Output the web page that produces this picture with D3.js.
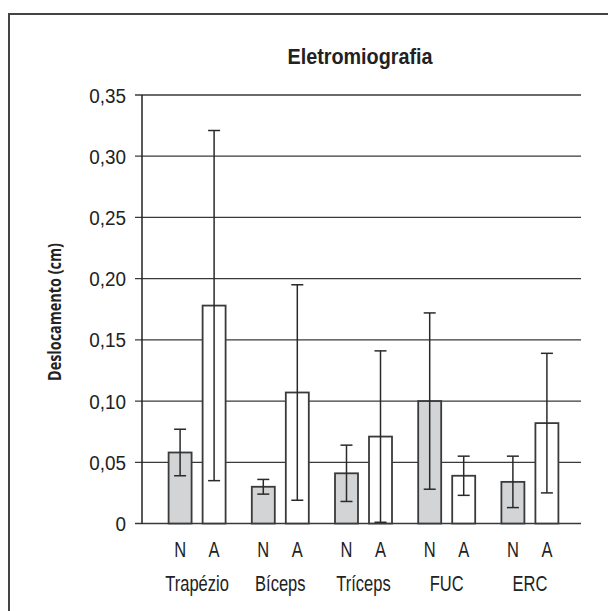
<!DOCTYPE html>
<html lang="pt">
<head>
<meta charset="UTF-8">
<title>Eletromiografia</title>
<script src="https://d3js.org/d3.v7.min.js"></script>
<style>
  body { margin: 0; background: #fff; }
  svg { display: block; }
  .lbl { font-family: "Liberation Sans", Arial, sans-serif; fill: #222; }
</style>
</head>
<body>
<svg id="chart" width="608" height="611"></svg>
<script>
// data (cm)
const categories = ["Trapézio", "Bíceps", "Tríceps", "FUC", "ERC"];
const groups = ["N", "A"];
const meanN = [0.058, 0.030, 0.041, 0.100, 0.034];
const sdN   = [0.019, 0.006, 0.023, 0.072, 0.021];
const meanA = [0.178, 0.107, 0.071, 0.039, 0.082];
const sdA   = [0.143, 0.088, 0.070, 0.016, 0.057];
const yTicks = [0, 0.05, 0.10, 0.15, 0.20, 0.25, 0.30, 0.35];

const svg = d3.select("#chart");

// frame (top + left only, the rest is cut off)
svg.append("path")
  .attr("d", "M9,611 V14 H608")
  .attr("fill", "none")
  .attr("stroke", "#444")
  .attr("stroke-width", 2);

const left = 142, right = 581;
const y = d3.scaleLinear().domain([0, 0.35]).range([523.5, 95]);
const x0 = d3.scaleBand().domain(categories).range([155.5, 571.5]);
const x1 = d3.scaleBand().domain(groups).range([0, 57]).paddingInner(0.324);
const offs = x0.bandwidth() / 2 - 28.5;

// condensed look: squeeze text horizontally around its anchor
function narrow(sel, k) {
  sel.attr("transform", function() {
    const t = d3.select(this);
    const xx = +t.attr("x"), yy = +t.attr("y");
    t.attr("x", 0).attr("y", 0);
    return `translate(${xx},${yy}) scale(${k},1)`;
  });
}

// gridlines + ticks
svg.append("g").selectAll("line")
  .data(yTicks)
  .join("line")
    .attr("x1", left - 7).attr("x2", right)
    .attr("y1", d => y(d)).attr("y2", d => y(d))
    .attr("stroke", "#3a3a3a")
    .attr("stroke-width", 1.3);

svg.append("line")
  .attr("x1", left).attr("x2", left)
  .attr("y1", y(0.35)).attr("y2", y(0))
  .attr("stroke", "#222").attr("stroke-width", 1.5);

svg.append("g").selectAll("text")
  .data(yTicks)
  .join("text")
    .attr("class", "lbl")
    .attr("x", left - 16)
    .attr("y", d => y(d))
    .attr("dy", "0.36em")
    .attr("text-anchor", "end")
    .style("font-size", "21px")
    .text(d => d === 0 ? "0" : d3.format(".2f")(d).replace(".", ","))
    .call(narrow, 0.9);

// rows for bars
const rows = [];
categories.forEach((c, i) => {
  rows.push({ cat: c, grp: "N", mean: meanN[i], sd: sdN[i] });
  rows.push({ cat: c, grp: "A", mean: meanA[i], sd: sdA[i] });
});
const bx = d => x0(d.cat) + offs + x1(d.grp);

svg.append("g").selectAll("rect")
  .data(rows)
  .join("rect")
    .attr("x", bx)
    .attr("y", d => y(d.mean))
    .attr("width", x1.bandwidth())
    .attr("height", d => y(0) - y(d.mean))
    .attr("fill", d => d.grp === "N" ? "#d3d4d6" : "#fff")
    .attr("stroke", "#3a3a3a")
    .attr("stroke-width", 1.8);

// error bars
const eb = svg.append("g").attr("stroke", "#2a2a2a").attr("stroke-width", 1.5);
rows.forEach(d => {
  const cx = bx(d) + x1.bandwidth() / 2;
  const hi = y(d.mean + d.sd), lo = y(Math.max(0, d.mean - d.sd));
  eb.append("line").attr("x1", cx).attr("x2", cx).attr("y1", hi).attr("y2", lo);
  eb.append("line").attr("x1", cx - 6).attr("x2", cx + 6).attr("y1", hi).attr("y2", hi);
  eb.append("line").attr("x1", cx - 6).attr("x2", cx + 6).attr("y1", lo).attr("y2", lo);
});

// group letters and category names
svg.append("g").selectAll("text")
  .data(rows)
  .join("text")
    .attr("class", "lbl")
    .attr("x", d => bx(d) + x1.bandwidth() / 2)
    .attr("y", 557)
    .attr("text-anchor", "middle")
    .style("font-size", "22px")
    .text(d => d.grp)
    .call(narrow, 0.75);

svg.append("g").selectAll("text")
  .data(categories)
  .join("text")
    .attr("class", "lbl")
    .attr("x", d => x0(d) + x0.bandwidth() / 2)
    .attr("y", 591)
    .attr("text-anchor", "middle")
    .style("font-size", "22px")
    .text(d => d)
    .call(narrow, 0.75);

// title
svg.append("text")
  .attr("class", "lbl")
  .attr("x", 360).attr("y", 64)
  .attr("text-anchor", "middle")
  .style("font-size", "22px")
  .style("font-weight", "bold")
  .text("Eletromiografia")
  .call(narrow, 0.9);

svg.append("text")
  .attr("transform", "translate(61,312) rotate(-90) scale(0.8,1)")
  .attr("text-anchor", "middle")
  .style("font-family", "'Open Sans', sans-serif")
  .style("font-weight", "bold")
  .style("font-size", "18px")
  .style("fill", "#222")
  .text("Deslocamento (cm)");
</script>
</body>
</html>
